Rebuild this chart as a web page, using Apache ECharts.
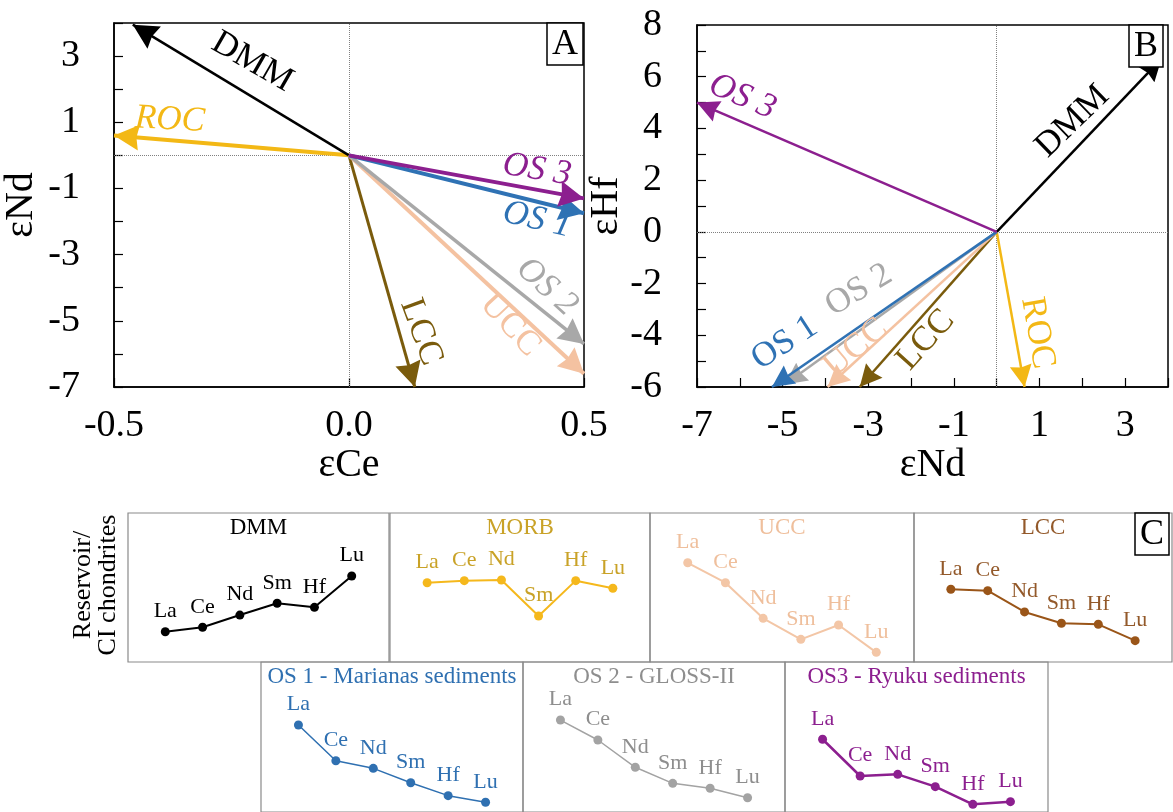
<!DOCTYPE html>
<html><head><meta charset="utf-8">
<script src="https://cdn.jsdelivr.net/npm/echarts@6/dist/echarts.min.js"></script>
<style>html,body{margin:0;padding:0;background:#fff}#c{width:1173px;height:812px}</style>
</head><body><div id="c"></div>
<script>
// ---------- DATA ----------
// Panel A: vector tips (εCe, εNd)
const namesA = ['ROC', 'DMM', 'LCC', 'UCC', 'OS 2', 'OS 1', 'OS 3'];
const ceA    = [-0.50, -0.46, 0.14, 0.50, 0.50, 0.50, 0.50];
const ndA    = [0.60, 3.95, -7.00, -6.60, -5.70, -1.75, -1.30];
// Panel B: vector tips (εNd, εHf)
const namesB = ['ROC', 'DMM', 'LCC', 'UCC', 'OS 2', 'OS 1', 'OS 3'];
const ndB    = [0.65, 3.85, -3.20, -3.95, -4.95, -5.25, -7.00];
const hfB    = [-6.00, 6.70, -6.00, -6.00, -5.90, -6.00, 5.00];
// Panel C: reservoir / CI chondrites patterns (relative, unlabelled scale)
const elements = ['La', 'Ce', 'Nd', 'Sm', 'Hf', 'Lu'];
const patDMM  = [2.03, 2.33, 3.15, 3.94, 3.67, 5.77];
const patMORB = [5.32, 5.46, 5.50, 3.09, 5.46, 4.95];
const patUCC  = [6.66, 5.32, 2.93, 1.52, 2.48, 0.65];
const patLCC  = [4.88, 4.79, 3.36, 2.60, 2.53, 1.43];
const patOS1  = [5.80, 3.42, 2.91, 1.95, 1.09, 0.65];
const patOS2  = [6.13, 4.80, 2.98, 1.91, 1.58, 0.95];
const patOS3  = [4.85, 2.40, 2.51, 1.69, 0.51, 0.69];

// ---------- STYLE / LAYOUT ----------
const SERIF = '"Liberation Serif", "Times New Roman", serif';
const colors = {
  'DMM': '#000000', 'ROC': '#f3b815', 'OS 3': '#8c1f8f', 'OS 1': '#2f72b4',
  'OS 2': '#a8a8a8', 'UCC': '#f4c2a1', 'LCC': '#7a5b0c'
};
const widthA = {'DMM': 2.5, 'ROC': 4, 'OS 3': 4, 'OS 1': 4, 'OS 2': 3.5, 'UCC': 4, 'LCC': 3};
// arrow label anchors (data coords), rotations, italic flag
const labA = {
  'DMM': [[-0.206, 2.82], -30, false], 'ROC': [[-0.381, 1.07], -3, true], 'OS 3': [[0.40, -0.44], -9, true],
  'OS 1': [[0.40, -1.95], -13, true], 'OS 2': [[0.421, -3.98], -42, true], 'UCC': [[0.343, -5.13], -47, false],
  'LCC': [[0.153, -5.34], -70, false]
};
const labB = {
  'DMM': [[1.77, 4.27], 44, false], 'OS 3': [[-5.94, 5.22], -23, true], 'ROC': [[0.95, -3.91], -80, false],
  'OS 1': [[-4.95, -4.30], 33, false], 'OS 2': [[-3.22, -2.25], 31, false], 'UCC': [[-3.29, -4.49], 40, false],
  'LCC': [[-1.66, -4.18], 48, false]
};
const ARROW = 'path://M0,-20L0,0L9,20L0,18L-9,20L0,0Z';

const panelsC = [
  {title: 'DMM', data: patDMM, color: '#000000', text: '#000000', lw: 2, box: [128, 513, 261, 149]},
  {title: 'MORB', data: patMORB, color: '#f5b81c', text: '#c9a227', lw: 2, box: [390, 513, 260, 149]},
  {title: 'UCC', data: patUCC, color: '#f3c6a6', text: '#efbf9c', lw: 2, box: [650, 513, 264, 149]},
  {title: 'LCC', data: patLCC, color: '#9a5518', text: '#93592a', lw: 2, box: [914, 513, 258, 149]},
  {title: 'OS 1 - Marianas sediments', data: patOS1, color: '#2f70b1', text: '#2f70b1', lw: 1.5, box: [261, 662, 262, 150]},
  {title: 'OS 2 - GLOSS-II', data: patOS2, color: '#a3a3a3', text: '#8e8e8e', lw: 1.5, box: [523, 662, 262, 150]},
  {title: 'OS3 - Ryuku sediments', data: patOS3, color: '#8c1f8f', text: '#8c1f8f', lw: 2.5, box: [785, 662, 263, 150]}
];

// ---------- OPTION ----------
const grids = [
  {left: 114, top: 23, width: 470, height: 364, show: true, borderColor: '#000', borderWidth: 1.5},
  {left: 697, top: 25, width: 471, height: 362, show: true, borderColor: '#000', borderWidth: 1.5}
];
const tickLabel = {fontFamily: SERIF, fontSize: 38, color: '#000'};
const axisName = {fontFamily: SERIF, fontSize: 40, color: '#000'};
const axLine = {show: true, onZero: false, lineStyle: {color: '#000', width: 1.5}};
const axTick = {show: true, inside: true, length: 9, lineStyle: {color: '#000', width: 1.2}};
const xAxes = [
  {type: 'value', gridIndex: 0, min: -0.5, max: 0.5, interval: 0.5, axisLine: axLine, axisTick: axTick,
   splitLine: {show: false}, axisLabel: Object.assign({margin: 20, showMinLabel: true, showMaxLabel: true,
   formatter: v => v.toFixed(1)}, tickLabel),
   name: 'εCe', nameLocation: 'middle', nameGap: 57, nameTextStyle: axisName},
  {type: 'value', gridIndex: 1, min: -7, max: 4, interval: 1, axisLine: axLine, axisTick: axTick,
   splitLine: {show: false}, axisLabel: Object.assign({margin: 20, showMinLabel: true,
   formatter: v => (Math.abs(v) % 2 === 1 ? String(v) : '')}, tickLabel),
   name: 'εNd', nameLocation: 'middle', nameGap: 57, nameTextStyle: axisName}
];
const yAxes = [
  {type: 'value', gridIndex: 0, min: -7, max: 4, interval: 1, axisLine: axLine, axisTick: axTick,
   splitLine: {show: false}, axisLabel: Object.assign({margin: 34,
   formatter: v => (Math.abs(v) % 2 === 1 ? String(v) : '')}, tickLabel),
   name: 'εNd', nameLocation: 'middle', nameGap: 73, nameRotate: 90, nameTextStyle: axisName},
  {type: 'value', gridIndex: 1, min: -6, max: 8, interval: 1, axisLine: axLine, axisTick: axTick,
   splitLine: {show: false}, axisLabel: Object.assign({margin: 35,
   formatter: v => (v % 2 === 0 ? String(v) : '')}, tickLabel),
   name: 'εHf', nameLocation: 'middle', nameGap: 65, nameRotate: 90, nameTextStyle: axisName}
];
const series = [];

function vectorPanel(gi, names, xs, ys, labs, widths, head) {
  series.push({
    type: 'lines', coordinateSystem: 'cartesian2d', xAxisIndex: gi, yAxisIndex: gi,
    clip: false, z: 3, silent: true,
    symbol: ['none', ARROW], symbolSize: [0, head],
    data: names.map((n, i) => ({
      coords: [[0, 0], [xs[i], ys[i]]],
      lineStyle: {color: colors[n], width: widths ? widths[n] : 2.5, opacity: 1}
    }))
  });
  series.push({
    type: 'scatter', xAxisIndex: gi, yAxisIndex: gi, symbolSize: 0, z: 4, silent: true,
    itemStyle: {opacity: 1},
    data: names.map(n => ({
      value: labs[n][0], name: n,
      label: {show: true, position: 'inside', rotate: labs[n][1], color: colors[n], opacity: 1,
        textBorderWidth: 0, textBorderColor: 'transparent',
        fontStyle: labs[n][2] ? 'italic' : 'normal',
        fontFamily: SERIF, fontSize: 35, formatter: n}
    })),
    markLine: {silent: true, symbol: 'none', z: 1, label: {show: false},
      lineStyle: {type: 'dotted', color: '#808080', width: 1},
      data: [{xAxis: 0}, {yAxis: 0}]}
  });
}
vectorPanel(0, namesA, ceA, ndA, labA, widthA, [26, 50]);
vectorPanel(1, namesB, ndB, hfB, labB, null, [22, 44]);

const graphics = [];
panelsC.forEach((p, k) => {
  const gi = 2 + k;
  grids.push({left: p.box[0], top: p.box[1], width: p.box[2], height: p.box[3], show: true,
    borderColor: '#8a8a8a', borderWidth: 1.2});
  xAxes.push({type: 'value', gridIndex: gi, min: 0, max: 7, show: false});
  yAxes.push({type: 'value', gridIndex: gi, min: 0, max: 10, show: false});
  series.push({
    type: 'line', xAxisIndex: gi, yAxisIndex: gi, silent: true, animation: false,
    symbol: 'circle', symbolSize: 9,
    itemStyle: {color: p.color}, lineStyle: {color: p.color, width: p.lw},
    label: {show: true, position: 'top', distance: 5, color: p.text, fontFamily: SERIF, fontSize: 22,
      formatter: q => elements[q.dataIndex]},
    data: p.data.map((v, i) => [i + 1, v])
  });
  graphics.push({type: 'text', x: p.box[0] + p.box[2] / 2, y: p.box[1] + 15, z: 10,
    style: {text: p.title, font: '23px ' + SERIF, fill: p.text, align: 'center', verticalAlign: 'middle',
      textAlign: 'center', textVerticalAlign: 'middle'}});
});
graphics.push({type: 'text', x: 96, y: 585, rotation: Math.PI / 2, z: 10,
  style: {text: 'Reservoir/\nCI chondrites', font: '26px ' + SERIF, fill: '#000', lineHeight: 25,
    align: 'center', verticalAlign: 'middle', textAlign: 'center', textVerticalAlign: 'middle'}});

const boxTitle = (t, l, tp) => ({text: t, left: l, top: tp, padding: [2, 5, 0, 5], borderColor: '#000',
  borderWidth: 1.5, backgroundColor: '#fff', z: 10,
  textStyle: {fontFamily: SERIF, fontSize: 36, fontWeight: 'normal', color: '#000', lineHeight: 40}});

const option = {
  animation: false,
  backgroundColor: '#fff',
  title: [boxTitle('A', 547, 23), boxTitle('B', 1129, 25), boxTitle('C', 1135, 513)],
  grid: grids, xAxis: xAxes, yAxis: yAxes, series: series, graphic: graphics
};
const chart = echarts.init(document.getElementById('c'));
chart.setOption(option);
</script></body></html>
